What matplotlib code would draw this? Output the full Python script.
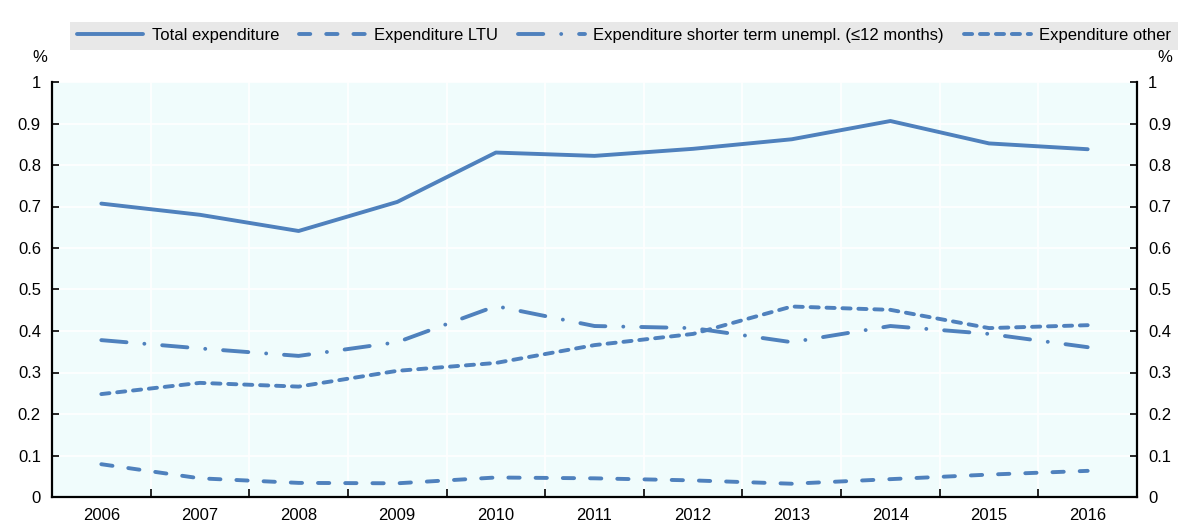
"""
Expenditure on unemployment, % - line chart with legend strip on top.
"""
import matplotlib.pyplot as plt
import matplotlib.ticker as mticker

years = ["2006", "2007", "2008", "2009", "2010", "2011", "2012", "2013", "2014", "2015", "2016"]
total = [0.707, 0.680, 0.641, 0.711, 0.830, 0.822, 0.839, 0.862, 0.906, 0.852, 0.838]
ltu = [0.079, 0.045, 0.034, 0.033, 0.047, 0.045, 0.040, 0.032, 0.043, 0.054, 0.063]
shorter = [0.378, 0.358, 0.340, 0.373, 0.460, 0.412, 0.407, 0.373, 0.412, 0.393, 0.361]
other = [0.248, 0.275, 0.266, 0.304, 0.323, 0.366, 0.393, 0.459, 0.451, 0.407, 0.414]

labels = ["Total expenditure", "Expenditure LTU",
          "Expenditure shorter term unempl. (\u226412 months)", "Expenditure other"]

BLUE = "#4f81bd"
plt.rcParams["font.family"] = ["Liberation Sans Narrow", "Liberation Sans", "DejaVu Sans"]


def main():
    fig = plt.figure(figsize=(11.88, 5.22), dpi=100)
    ax = fig.add_axes([52 / 1188, 25 / 522, 1085 / 1188, 415 / 522])
    ax.set_facecolor("#f0fcfc")

    x = list(range(len(years)))
    lw = 2.8
    kw = dict(color=BLUE, lw=lw, dash_capstyle="round", solid_capstyle="round")
    ax.plot(x, total, label=labels[0], **kw)
    ax.plot(x, ltu, dashes=(2.9, 4.1), label=labels[1], **kw)
    ax.plot(x, shorter, dashes=(6.5, 4.6, 0.01, 4.6), label=labels[2], **kw)
    ax.plot(x, other, dashes=(2.1, 2.0), label=labels[3], **kw)

    ax.set_xlim(-0.5, len(years) - 0.5)
    ax.set_ylim(0, 1)
    ax.set_xticks(x)
    ax.set_xticklabels(years)
    ax.xaxis.set_minor_locator(mticker.FixedLocator([i + 0.5 for i in x[:-1]]))
    ax.yaxis.set_major_locator(mticker.MultipleLocator(0.1))
    ax.yaxis.set_major_formatter(mticker.FuncFormatter(lambda v, p: f"{v:g}"))

    ax.grid(True, which="major", axis="y", color="white", lw=1.2)
    ax.grid(True, which="minor", axis="x", color="white", lw=1.2)
    ax.set_axisbelow(True)

    ax.tick_params(axis="x", which="major", length=0, labelsize=12, pad=8)
    ax.tick_params(axis="x", which="minor", direction="in", length=6, width=1.2)
    ax.tick_params(axis="y", direction="in", length=5, width=1.2, labelsize=12,
                   left=True, right=True, labelleft=True, labelright=True, pad=8)

    ax.spines["top"].set_visible(False)
    for s in ("left", "right", "bottom"):
        ax.spines[s].set_linewidth(1.6)

    fig.text(40 / 1188, 1 - 57 / 522, "%", fontsize=12, ha="center", va="center")
    fig.text(1165 / 1188, 1 - 57 / 522, "%", fontsize=12, ha="center", va="center")

    leg = fig.legend(loc="lower left", bbox_to_anchor=(70 / 1188, 1 - 50 / 522, 1108 / 1188, 40 / 522),
                     mode="expand", ncol=4, frameon=True, facecolor="#e8e8e8", edgecolor="none",
                     fancybox=False, fontsize=12, handlelength=4.0, handletextpad=0.5,
                     columnspacing=2.0, borderaxespad=0)
    leg.get_frame().set_alpha(1)

    fig.savefig("out.png", dpi=100)


if __name__ == "__main__":
    main()
